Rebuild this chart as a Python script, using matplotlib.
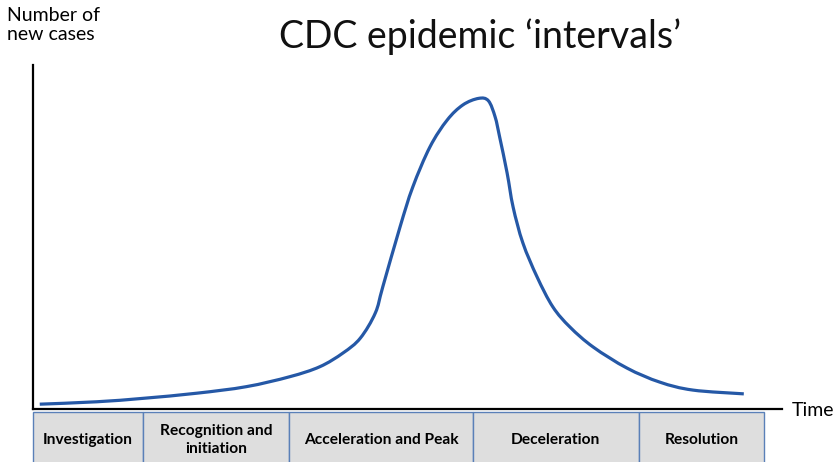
import numpy as np
import matplotlib
matplotlib.use("Agg")
import matplotlib.pyplot as plt
from matplotlib.path import Path
from matplotlib.patches import PathPatch, Rectangle

# ---- data (arbitrary units: time 0-100, new cases 0-100) ----
time = [0.9, 8.5, 14.7, 21.9, 28.5, 34.3, 38.3, 41.4, 43.7, 45.7, 46.7, 49.0,
        50.7, 53.0, 55.3, 57.4, 59.5, 60.8, 61.7, 62.3, 63.3, 64.1, 65.4, 67.3,
        69.4, 71.7, 74.8, 79.3, 83.7, 88.1, 94.9]
cases = [1.4, 2.1, 3.1, 4.6, 6.5, 9.4, 12.3, 16.3, 20.6, 27.9, 35.5, 52.9,
         64.5, 76.2, 84.0, 88.4, 90.3, 89.6, 84.9, 79.1, 68.6, 58.7, 48.3, 38.4,
         29.7, 23.8, 18.0, 11.9, 7.8, 5.5, 4.4]

phases = ["Investigation", "Recognition and\ninitiation", "Acceleration and Peak",
          "Deceleration", "Resolution"]
phase_edges = [0, 14.7, 34.2, 58.7, 80.9, 97.6]

title = "CDC epidemic \u2018intervals\u2019"
ylabel = "Number of\nnew cases"
xlabel = "Time"

FONT = ["Lato", "DejaVu Sans"]

fig = plt.figure(figsize=(8.39, 4.62), dpi=100)
W, H = 839, 462
ax = fig.add_axes([33 / W, (H - 409) / H, 749 / W, 344 / H])
ax.set_xlim(0, 100)
ax.set_ylim(0, 100)
for s in ["top", "right"]:
    ax.spines[s].set_visible(False)
for s in ["left", "bottom"]:
    ax.spines[s].set_linewidth(1.6)
    ax.spines[s].set_color("black")
ax.set_xticks([])
ax.set_yticks([])

# smooth curve through points (Catmull-Rom -> cubic Bezier)
P = np.column_stack([time, cases])
verts = [tuple(P[0])]
codes = [Path.MOVETO]
n = len(P)
for i in range(n - 1):
    p0 = P[i - 1] if i > 0 else P[i]
    p1 = P[i]
    p2 = P[i + 1]
    p3 = P[i + 2] if i + 2 < n else P[i + 1]
    c1 = p1 + (p2 - p0) / 6.0
    c2 = p2 - (p3 - p1) / 6.0
    verts += [tuple(c1), tuple(c2), tuple(p2)]
    codes += [Path.CURVE4] * 3
ax.add_patch(PathPatch(Path(verts, codes), fill=False, edgecolor="#2558a6",
                       linewidth=2.3, capstyle="butt", joinstyle="round"))

# phase boxes below the axis
box_top = -0.9
box_bot = -18.0
for i, label in enumerate(phases):
    x0, x1 = phase_edges[i], phase_edges[i + 1]
    ax.add_patch(Rectangle((x0, box_bot), x1 - x0, box_top - box_bot,
                           facecolor="#dedede", edgecolor="#5a80b8",
                           linewidth=1.0, clip_on=False))
    ax.text((x0 + x1) / 2, -9.0, label, ha="center", va="center",
            fontsize=11.2, fontweight="bold", family=FONT, color="black",
            linespacing=1.3, clip_on=False)

fig.text(480 / W, 1 - 37 / H, title, ha="center", va="center",
         fontsize=27, fontweight="normal", family=FONT, color="#111111")
fig.text(7 / W, 1 - 7 / H, ylabel, ha="left", va="top",
         fontsize=14, family=FONT, color="black", linespacing=1.15)
fig.text(792 / W, 1 - 410 / H, xlabel, ha="left", va="center",
         fontsize=14, family=FONT, color="black")

fig.savefig("out.png", dpi=100)
